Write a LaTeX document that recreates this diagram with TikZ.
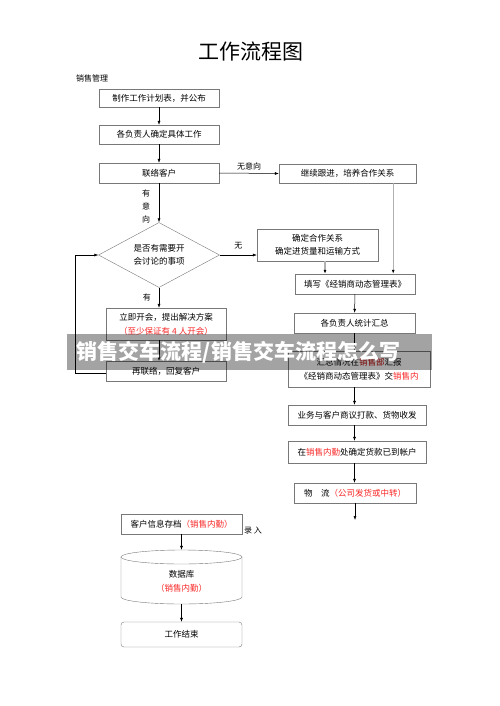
\documentclass[tikz,border=0pt]{standalone}
\usepackage{fontspec}
\setmainfont{Noto Sans CJK SC}
\usetikzlibrary{shapes.geometric, arrows.meta, positioning}
\definecolor{boxgray}{RGB}{120,120,120}
\definecolor{linkgray}{RGB}{176,176,176}
\definecolor{notered}{RGB}{250,40,40}
\definecolor{deptred}{RGB}{190,0,0}

\begin{document}
\begin{tikzpicture}[x=1pt, y=-1pt,
        stepbox/.style={rectangle, draw=boxgray, minimum width=120pt, minimum height=20pt, align=center, inner sep=1pt, font=\fontsize{8.5}{14}\selectfont},
        choice/.style={diamond, draw=boxgray, aspect=1.86, minimum width=121pt, minimum height=65pt, inner sep=0pt, align=center, font=\fontsize{8.5}{12.5}\selectfont},
        tag/.style={inner sep=0pt, align=center, font=\fontsize{8}{13}\selectfont},
        arrow/.style={-{Latex[length=4pt, width=3pt]}, black, line width=0.5pt},
        softarrow/.style={-{Latex[length=4pt, width=3pt, color=black]}, linkgray, line width=1.2pt}
    ]
        \fill[white] (0,0) rectangle (500,706);
        \useasboundingbox (0,0) rectangle (500,706);

        \node[font=\fontsize{21}{24}\selectfont] (title) at (251,52) {工作流程图};
        \node[tag, anchor=west] (dept) at (76,78) {销售管理};

        % left column
        \node[stepbox, minimum height=18pt] (plan) at (159,98) {制作工作计划表，并公布};
        \node[stepbox, minimum height=19pt] (assign) at (159,134.5) {各负责人确定具体工作};
        \node[stepbox] (contact) at (159,173) {联络客户};
        \node[choice] (decide) at (159,255) {是否有需要开\\会讨论的事项};
        \node[stepbox, minimum height=32pt] (meeting) at (166,324) {立即开会，提出解决方案\\\textcolor{notered}{（至少保证有 4 人开会）}};
        \node[stepbox] (reply) at (166,371) {再联络，回复客户};

        % right column
        \node[stepbox, minimum width=137pt, minimum height=19pt] (follow) at (347.5,173.5) {继续跟进，培养合作关系};
        \node[stepbox, minimum width=121pt, minimum height=32pt, font=\fontsize{8.5}{13}\selectfont] (confirm) at (317.5,245) {确定合作关系\\确定进货量和运输方式};
        \node[stepbox] (fill) at (355,284) {填写《经销商动态管理表》};
        \node[stepbox, minimum width=121pt] (summary) at (354.5,323) {各负责人统计汇总};
        \node[stepbox, minimum width=142pt, minimum height=36pt] (report) at (359,369) {汇总情况在\textcolor{deptred}{销售部}汇报\\《经销商动态管理表》交\textcolor{notered}{销售内}};
        \node[stepbox, minimum width=138pt] (negotiate) at (357,415) {业务与客户商议打款、货物收发};
        \node[stepbox, minimum width=138pt, minimum height=22pt] (payment) at (357,452) {在\textcolor{notered}{销售内勤}处确定货款已到帐户};
        \node[stepbox, minimum width=122pt] (logistics) at (355,493) {物\quad 流\textcolor{notered}{（公司发货或中转）}};
        \coordinate (handover) at (355,520);

        % archive
        \node[stepbox, minimum width=121pt] (archive) at (181.5,524) {客户信息存档\textcolor{notered}{（销售内勤）}};
        \node[tag] (entry) at (253,531) {录\ 入};
        \fill[white] (121,557) -- (121,597) arc[start angle=180, end angle=0, x radius=60.5, y radius=7] -- (242,557) -- cycle;
        \draw[boxgray] (121,557) -- (121,597) arc[start angle=180, end angle=0, x radius=60.5, y radius=7] -- (242,557);
        \draw[boxgray, fill=white] (181.5,557) ellipse[x radius=60.5, y radius=7];
        \node[tag, minimum width=121pt, minimum height=54pt, font=\fontsize{8.5}{14}\selectfont] (database) at (181.5,577) {\\[1pt]数据库\\\textcolor{notered}{（销售内勤）}};
        \node[stepbox, minimum width=121pt, minimum height=25pt, rounded corners=3pt] (finish) at (181.5,634.5) {工作结束};

        % connectors
        \draw[arrow] (plan) -- (assign);
        \draw[arrow] (assign) -- (contact);
        \draw[arrow] (contact) -- (decide.north);
        \node[tag] (intent) at (146,206) {有\\意\\向};
        \draw[arrow] (contact.east) -- node[tag, above=3pt] (nointent) {无意向} (follow.west);
        \draw[arrow] (decide.east) -- node[tag, above=6pt] (none) {无} (decide.east -| confirm.west);
        \coordinate (followdrop) at ([xshift=-22pt]fill.north east);
        \coordinate (confirmdrop) at ([xshift=7.5pt]confirm.south);
        \draw[softarrow] (followdrop |- follow.south) -- (followdrop);
        \draw[softarrow] (confirmdrop) -- (confirmdrop |- fill.north);
        \draw[arrow] (fill) -- (summary);
        \draw[arrow] (summary.south) -- (summary.south |- report.north);
        \draw[arrow] (summary.south |- report.south) -- (summary.south |- negotiate.north);
        \draw[arrow] (summary.south |- negotiate.south) -- (summary.south |- payment.north);
        \draw[arrow] (summary.south |- payment.south) -- (summary.south |- logistics.north);
        \draw[arrow] (logistics.south) -- (handover);
        \draw[arrow] (decide.south) -- node[tag, left=8pt] (yes) {有} (decide.south |- meeting.north);
        \draw[arrow] (decide.south |- meeting.south) -- (decide.south |- reply.north);
        \draw[arrow] ([yshift=-2pt]reply.west) -- ++(-31,0) |- (decide.west);
        \draw[arrow] (archive) -- (database.north);
        \draw[arrow] (database.south) -- (finish);

        % watermark banner
        \fill[black, opacity=0.36] (67,334) rectangle (432,370);
        \node[font=\bfseries\fontsize{21}{24}\selectfont, text=white, inner sep=0pt] (banner) at (238.5,352) {销售交车流程/销售交车流程怎么写};
    \end{tikzpicture}
\end{document}
